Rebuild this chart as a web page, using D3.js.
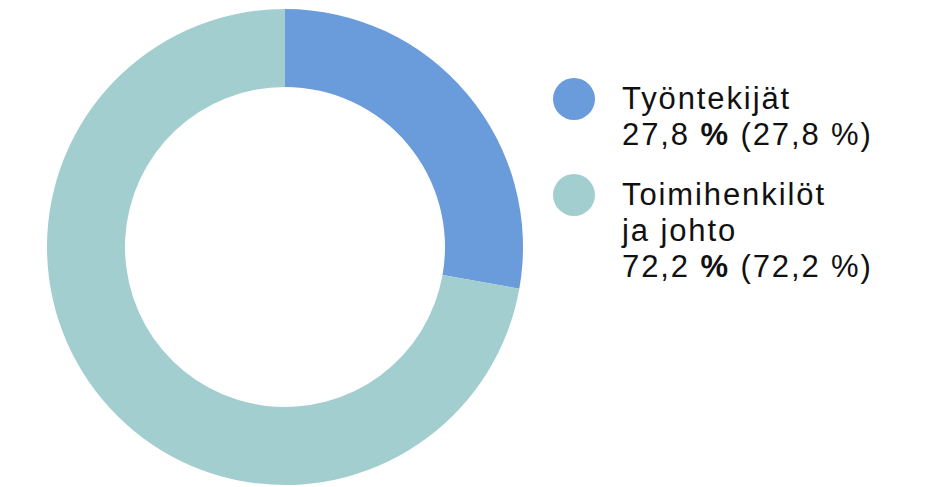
<!DOCTYPE html>
<html>
<head>
<meta charset="utf-8">
<script src="https://cdn.jsdelivr.net/npm/d3@7"></script>
<style>
  html, body { margin: 0; padding: 0; background: #fff; }
  svg { display: block; }
</style>
</head>
<body>
<svg id="chart" width="927" height="487"></svg>
<script>
// Staff structure by group
const categories = ["Työntekijät", "Toimihenkilöt ja johto"];
const labelLines = [["Työntekijät"], ["Toimihenkilöt", "ja johto"]];
const values = [27.8, 72.2];
const colors = ["#6a9bdb", "#a3cecf"];

const svg = d3.select("#chart");
const fmt = v => d3.format(".1f")(v).replace(".", ",");

// Donut
const cx = 285, cy = 247, outerR = 238, innerR = 160;
const pie = d3.pie().sort(null).value(d => d.value);
const arc = d3.arc().innerRadius(innerR).outerRadius(outerR);
const data = categories.map((c, i) => ({ name: c, value: values[i], color: colors[i] }));

svg.append("g")
  .attr("transform", `translate(${cx},${cy})`)
  .selectAll("path")
  .data(pie(data))
  .join("path")
  .attr("d", arc)
  .attr("fill", d => d.data.color);

// Legend
const legendX = 574, textX = 622, lineH = 36;
const legendTop = [109, 205];
const legend = svg.append("g")
  .style("font-family", "'Liberation Sans', Arial, sans-serif")
  .style("font-size", "31px")
  .style("letter-spacing", "1.9px")
  .attr("fill", "#111");

data.forEach((d, i) => {
  const g = legend.append("g");
  g.append("circle")
    .attr("cx", legendX)
    .attr("cy", legendTop[i] - 10)
    .attr("r", 21)
    .attr("fill", d.color);
  labelLines[i].forEach((ln, j) => {
    g.append("text")
      .attr("x", textX)
      .attr("y", legendTop[i] + j * lineH)
      .text(ln);
  });
  const t = g.append("text")
    .attr("x", textX)
    .attr("y", legendTop[i] + labelLines[i].length * lineH);
  t.append("tspan").text(fmt(d.value) + " ");
  t.append("tspan").attr("font-weight", "bold").text("%");
  t.append("tspan").text(" (" + fmt(d.value) + " %)");
});
</script>
</body>
</html>
